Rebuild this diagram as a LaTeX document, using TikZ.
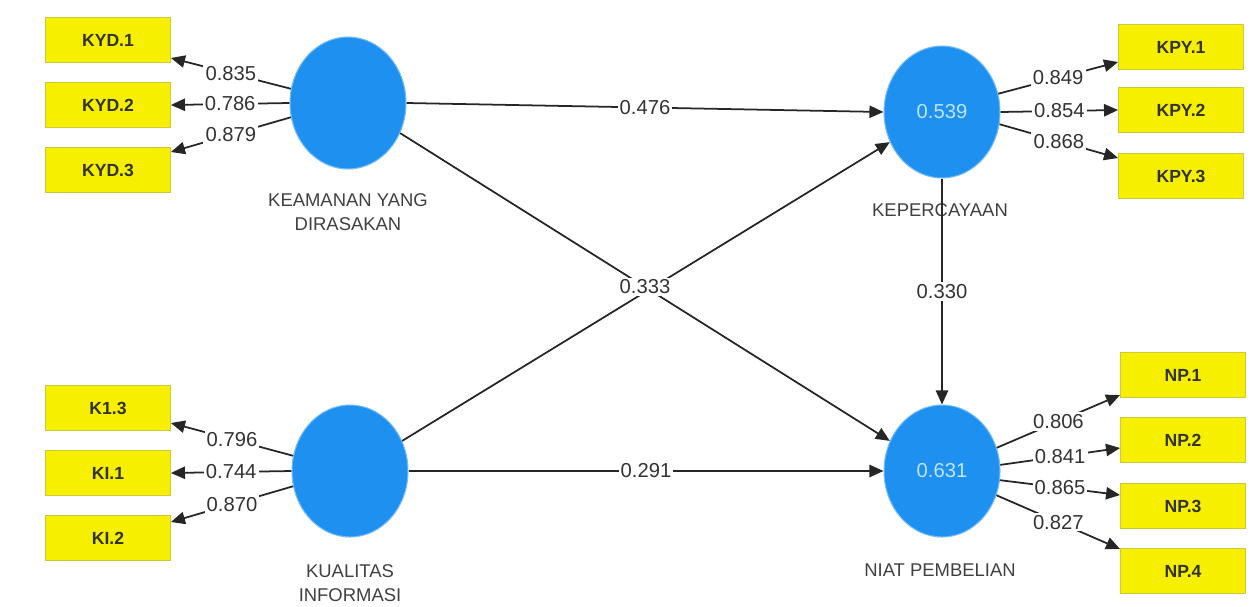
\documentclass[tikz,border=0pt]{standalone}
\usepackage{fontspec}
\setmainfont{Liberation Sans}
\usetikzlibrary{shapes.geometric,arrows.meta,calc}
\definecolor{lvblue}{RGB}{30,144,240}
\definecolor{lvtext}{RGB}{190,228,255}
\definecolor{itemyellow}{RGB}{246,240,0}
\definecolor{itemedge}{RGB}{205,200,60}
\begin{document}
\begin{tikzpicture}[x=0.02cm,y=-0.02cm,
  latent/.style={ellipse,fill=lvblue,draw=lvblue!60!white,line width=0.6pt,minimum width=2.32cm,minimum height=2.64cm,inner sep=0pt,text=lvtext,font=\fontsize{11.5}{13}\selectfont},
  indicator/.style={rectangle,fill=itemyellow,draw=itemedge,line width=0.5pt,minimum width=2.5cm,minimum height=0.9cm,font=\fontsize{10}{12}\selectfont\bfseries,text=black!80},
  cname/.style={font=\fontsize{10.5}{13.5}\selectfont,text=black!75,align=center},
  effect/.style={-{Triangle[length=8pt,width=7pt]},line width=1pt,draw=black!85},
  coef/.style={fill=white,inner sep=1.2pt,font=\fontsize{11.5}{13}\selectfont,text=black!80}]
\useasboundingbox (0,0) rectangle (1252,606);

% Latent variables
\node[latent] (kyd) at (348,103) {};
\node[latent] (kep) at (942,112) {0.539};
\node[latent] (ki) at (350,471) {};
\node[latent] (np) at (942,471) {0.631};

% Construct names
\node[cname] (kydname) at (348,212) {KEAMANAN YANG\\DIRASAKAN};
\node[cname] (kepname) at (940,210) {KEPERCAYAAN};
\node[cname] (kiname) at (350,583) {KUALITAS\\INFORMASI};
\node[cname] (npname) at (940,570) {NIAT PEMBELIAN};

% Indicators
\node[indicator] (kyd1) at (108,40) {KYD.1};
\node[indicator] (kyd2) at (108,105) {KYD.2};
\node[indicator] (kyd3) at (108,170) {KYD.3};
\node[indicator] (ki3) at (108,408) {K1.3};
\node[indicator] (ki1) at (108,473) {KI.1};
\node[indicator] (ki2) at (108,538) {KI.2};
\node[indicator] (kpy1) at (1181,47) {KPY.1};
\node[indicator] (kpy2) at (1181,110) {KPY.2};
\node[indicator] (kpy3) at (1181,176) {KPY.3};
\node[indicator] (np1) at (1183,375) {NP.1};
\node[indicator] (np2) at (1183,440) {NP.2};
\node[indicator] (np3) at (1183,506) {NP.3};
\node[indicator] (np4) at (1183,571) {NP.4};

% Outer loadings
\draw[effect] (kyd.166) -- node[coef] {0.835} ($(kyd1.east)+(0,18)$);
\draw[effect] (kyd.180) -- node[coef] {0.786} (kyd2.east);
\draw[effect] (kyd.194) -- node[coef] {0.879} ($(kyd3.east)+(0,-18)$);

\draw[effect] (ki.165) -- node[coef] {0.796} ($(ki3.east)+(0,15)$);
\draw[effect] (ki.180) -- node[coef] {0.744} (ki1.east);
\draw[effect] (ki.195) -- node[coef] {0.870} ($(ki2.east)+(0,-16)$);

\draw[effect] (kep.18) -- node[coef] {0.849} ($(kpy1.west)+(0,15)$);
\draw[effect] (kep.0) -- node[coef] {0.854} (kpy2.west);
\draw[effect] (kep.-12) -- node[coef] {0.868} ($(kpy3.west)+(0,-18)$);

\draw[effect] (np.23) -- node[coef] {0.806} ($(np1.west)+(0,20)$);
\draw[effect] (np.6) -- node[coef] {0.841} ($(np2.west)+(0,8)$);
\draw[effect] (np.-9) -- node[coef] {0.865} ($(np3.west)+(0,-11)$);
\draw[effect] (np.-24) -- node[coef] {0.827} ($(np4.west)+(0,-22)$);

% Path coefficients
\draw[effect] (kyd.east) -- node[coef] {0.476} (kep.west);
\draw[effect] (ki.30) -- (kep.-150);
\draw[effect] (kyd.-30) -- node[coef] {0.333} (np.150);
\draw[effect] (ki.east) -- node[coef] {0.291} (np.west);
\draw[effect] (kep.south) -- node[coef] {0.330} (np.north);

\end{tikzpicture}
\end{document}
